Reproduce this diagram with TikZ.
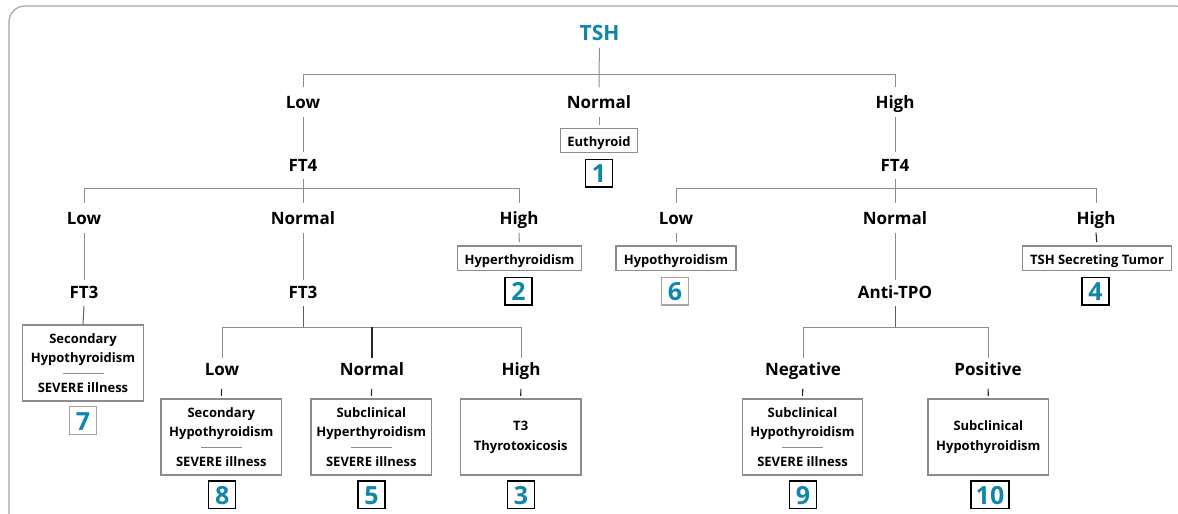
\documentclass[tikz,border=0pt]{standalone}
\usepackage{fontspec}
\setmainfont{Open Sans}
\definecolor{teal1}{RGB}{16,134,168}
\definecolor{lgray}{RGB}{140,140,140}
\definecolor{mgray}{RGB}{95,95,95}
\definecolor{fgray}{RGB}{165,165,165}
\begin{document}
\begin{tikzpicture}[x=1pt,y=-1pt,
 lab/.style={font=\fontsize{17}{20}\selectfont\bfseries, text height=12.5pt, text depth=0pt, minimum height=29pt, inner sep=0pt},
 test/.style={lab, minimum height=26pt},
 lab3/.style={lab, minimum height=22.5pt},
 rbox/.style={draw=lgray, line width=1.2pt, inner sep=0pt, font=\fontsize{13}{19.3}\selectfont\bfseries, align=center},
 sbox/.style={rbox, minimum height=24.6pt, text height=11.6pt, text depth=0pt},
 bbox/.style={rbox, minimum width=120.5pt, minimum height=76pt},
 num/.style={draw=black, line width=1.3pt, inner sep=0pt, minimum width=27pt, minimum height=27.5pt, text=teal1, font=\fontsize{25}{25}\selectfont\bfseries, text height=19.5pt, text depth=0pt},
 numg/.style={num, draw=fgray},
 conn/.style={draw=lgray, line width=1pt},
 connm/.style={draw=mgray, line width=1pt},
 connd/.style={draw=black!85, line width=1.1pt},
 sepline/.style={draw=lgray, line width=1pt},
 framebox/.style={draw=fgray, line width=1.2pt, rounded corners=16pt}
]
\useasboundingbox (0,0) rectangle (1178,514);
\begin{scope}
\clip (0,0) rectangle (1178,514);
\draw[framebox] (9,6) rectangle (1192,545);
\end{scope}

% level 0
\node[font=\fontsize{21}{22}\selectfont\bfseries, text=teal1, text height=15.4pt, text depth=0pt, minimum height=30pt, inner sep=0pt] (tsh) at (599.5,33) {TSH};
\coordinate (busA) at (599,74);

% level 1
\node[lab] (lowA) at (303,102) {Low};
\node[lab] (normA) at (599,102) {Normal};
\node[lab] (highA) at (895,102) {High};
\node[sbox, minimum width=77pt] (euth) at (599,140.5) {Euthyroid};
\node[num] (n1) at (599,173.2) {1};
\node[test] (ft4a) at (303,165.5) {FT4};
\node[test] (ft4b) at (895,165.5) {FT4};
\coordinate (busB) at (600,188.7);

% level 2
\node[lab] (lowB) at (84,218) {Low};
\node[lab] (normB) at (303,218) {Normal};
\node[lab] (highB) at (519,218) {High};
\node[lab] (lowC) at (676,218) {Low};
\node[lab] (normC) at (895,218) {Normal};
\node[lab] (highC) at (1096,218) {High};

\node[sbox, minimum width=124.5pt] (hyper) at (519.5,258.3) {Hyperthyroidism};
\node[num] (n2) at (518.5,291.2) {2};
\node[sbox, minimum width=120pt] (hypo) at (676,258.3) {Hypothyroidism};
\node[numg] (n6) at (675,291.2) {6};
\node[sbox, minimum width=149pt] (tumor) at (1097,258.3) {TSH Secreting Tumor};
\node[num] (n4) at (1095.5,291.2) {4};

\node[test] (ft3a) at (84,292.7) {FT3};
\node[test] (ft3b) at (303,292.7) {FT3};
\node[test] (anti) at (895,292.7) {Anti-TPO};

\node[bbox] (box7) at (83,363) {Secondary\\Hypothyroidism\\[10.5pt]SEVERE illness};
\node[numg] (n7) at (83,420.5) {7};
\coordinate (busC) at (400,327.3);

% level 3
\node[lab3] (lowD) at (222,369.5) {Low};
\node[lab3] (normD) at (372,369.5) {Normal};
\node[lab3] (highD) at (521,369.5) {High};
\node[lab3] (negD) at (803,369.5) {Negative};
\node[lab3] (posD) at (988,369.5) {Positive};

\node[bbox] (box8) at (221.3,437) {Secondary\\Hypothyroidism\\[10.5pt]SEVERE illness};
\node[bbox] (box5) at (371.3,437) {Subclinical\\Hyperthyroidism\\[10.5pt]SEVERE illness};
\node[bbox] (box3) at (520.7,437) {T3\\[0.7pt]Thyrotoxicosis};
\node[bbox] (box9) at (802.5,437) {Subclinical\\Hypothyroidism\\[10.5pt]SEVERE illness};
\node[bbox] (box10) at (988.3,437) {Subclinical\\[0.7pt]Hypothyroidism};

\node[num] (n8) at (222.3,494.7) {8};
\node[num] (n5) at (371.5,494.7) {5};
\node[num] (n3) at (521,494.7) {3};
\node[num] (n9) at (803,494.7) {9};
\node[num, minimum width=38pt] (n10) at (990,494.7) {10};

% separators
\foreach \b in {box7,box8,box5,box9}
  \draw[sepline] ([shift={(-20.5,10.3)}]\b.center) -- ([shift={(20.5,10.3)}]\b.center);

% connectors level 0-1
\draw[conn] (tsh.south) -- (busA) -- (normA.north);
\draw[conn] (lowA.north) -- (lowA.north |- busA) -- (highA.north |- busA) -- (highA.north);
\draw[conn, shorten >=2.5pt] (normA.south) -- (euth.north);
\draw[conn] (lowA.south) -- (ft4a.north);
\draw[conn] (highA.south) -- (ft4b.north);

% connectors level 1-2
\draw[conn] (ft4a.south) -- (normB.north);
\draw[conn] (lowB.north) -- (lowB.north |- busB) -- (highB.north |- busB) -- (highB.north);
\draw[conn] (ft4b.south) -- (normC.north);
\draw[conn] (lowC.north) -- (lowC.north |- busB) -- (highC.north |- busB) -- (highC.north);
\draw[conn, shorten >=3.3pt] (highB.south) -- (hyper.north);
\draw[conn, shorten >=3.3pt] (lowC.south) -- (hypo.north);
\draw[connd, shorten >=3.3pt] (highC.south) -- (tumor.north);

% connectors level 2-3
\draw[conn] (lowB.south) -- (ft3a.north);
\draw[conn] (normB.south) -- (ft3b.north);
\draw[conn] (normC.south) -- (anti.north);
\draw[connm] (ft3a.south) -- (box7.north);
\draw[connm] (ft3b.south) -- (ft3b.south |- busC);
\draw[conn] (lowD.north) -- (lowD.north |- busC) -- (highD.north |- busC) -- (highD.north);
\draw[connd] (normD.north |- busC) -- (normD.north);
\draw[connm] (anti.south) -- (anti.south |- busC);
\draw[conn] (negD.north) -- (negD.north |- busC) -- (posD.north |- busC) -- (posD.north);

% stubs to result boxes
\draw[connd, shorten <=8pt, shorten >=2.5pt] (lowD.south) -- (box8.north);
\draw[connd, shorten <=8pt, shorten >=2.5pt] (normD.south) -- (box5.north);
\draw[connd, shorten <=8pt, shorten >=2.5pt] (highD.south) -- (box3.north);
\draw[connd, shorten <=8pt, shorten >=2.5pt] (negD.south) -- (box9.north);
\draw[connd, shorten <=8pt, shorten >=2.5pt] (posD.south) -- (box10.north);
\end{tikzpicture}
\end{document}
